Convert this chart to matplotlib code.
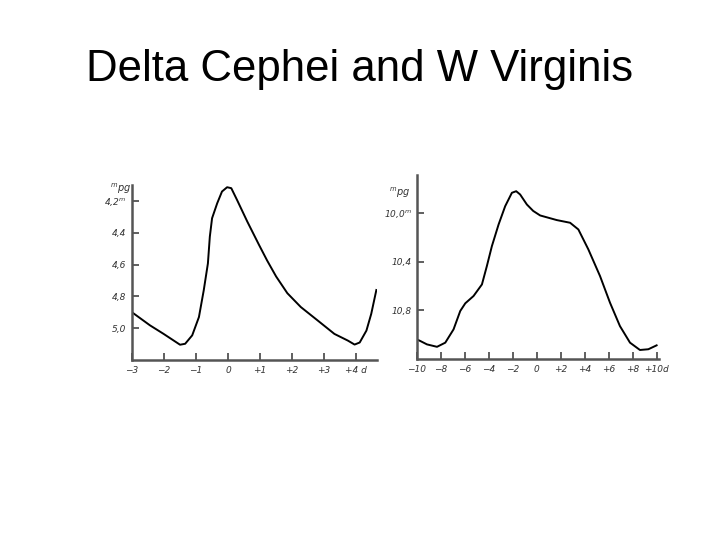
import matplotlib
matplotlib.use("Agg")
import matplotlib.pyplot as plt

# ------------------------------------------------------------------
# Light curves (days, photographic mag)
# ------------------------------------------------------------------
dcep_days = [-3.0, -2.44, -2.02, -1.50, -1.34, -1.12, -0.91, -0.76, -0.63,
             -0.57, -0.50, -0.34, -0.19, -0.03, 0.10, 0.28, 0.60, 0.97,
             1.22, 1.50, 1.85, 2.27, 2.80, 3.32, 3.74, 3.95, 4.11, 4.32,
             4.47, 4.63]
dcep_mag = [4.90, 4.982, 5.035, 5.104, 5.098, 5.045, 4.93, 4.762, 4.593,
            4.425, 4.309, 4.215, 4.141, 4.114, 4.12, 4.194, 4.33, 4.478,
            4.575, 4.675, 4.78, 4.867, 4.952, 5.036, 5.078, 5.103, 5.09,
            5.015, 4.91, 4.76]

wvir_days = [-10.0, -9.73, -9.17, -8.33, -7.64, -6.95, -6.39, -5.97, -5.28,
             -4.58, -4.17, -3.75, -3.19, -2.64, -2.08, -1.72, -1.39, -0.83,
             -0.30, 0.28, 1.67, 2.78, 3.47, 4.30, 5.28, 6.11, 6.94, 7.78,
             8.61, 9.31, 10.0]
wvir_mag = [11.04, 11.052, 11.08, 11.10, 11.066, 10.957, 10.806, 10.743,
            10.683, 10.588, 10.438, 10.274, 10.096, 9.946, 9.836, 9.823,
            9.85, 9.932, 9.985, 10.022, 10.06, 10.082, 10.137, 10.30, 10.52,
            10.738, 10.93, 11.066, 11.126, 11.12, 11.088]

dcep_xticks = [-3, -2, -1, 0, 1, 2, 3, 4]
dcep_xlabels = ['−3', '−2', '−1', '0', '+1', '+2', '+3', '+4 d']
dcep_yticks = [4.2, 4.4, 4.6, 4.8, 5.0]
dcep_ylabels = ['4,2$^{m}$', '4,4', '4,6', '4,8', '5,0']

wvir_xticks = [-10, -8, -6, -4, -2, 0, 2, 4, 6, 8, 10]
wvir_xlabels = ['−10', '−8', '−6', '−4', '−2', '0', '+2', '+4', '+6', '+8',
                '+10d']
wvir_yticks = [10.0, 10.4, 10.8]
wvir_ylabels = ['10,0$^{m}$', '10,4', '10,8']

W, H = 720, 540
fig = plt.figure(figsize=(7.2, 5.4), dpi=100)


def px_axes(x0, y0, x1, y1):
    # axes from pixel box (top-left origin)
    return fig.add_axes([x0 / W, 1 - y1 / H, (x1 - x0) / W, (y1 - y0) / H])


def style_panel(ax, xt, xl, yt, yl):
    for s in ['top', 'right']:
        ax.spines[s].set_visible(False)
    for s in ['left', 'bottom']:
        ax.spines[s].set_color('#555555')
        ax.spines[s].set_linewidth(1.8)
    ax.set_xticks(xt)
    ax.set_xticklabels(xl)
    ax.set_yticks(yt)
    ax.set_yticklabels(yl)
    ax.tick_params(axis='both', direction='in', length=5, width=1.2,
                   color='#444444', labelsize=6.5, labelcolor='#333333')
    ax.tick_params(axis='x', pad=4)
    ax.tick_params(axis='y', pad=4)
    for lab in ax.get_xticklabels() + ax.get_yticklabels():
        lab.set_fontstyle('italic')
    ax.set_facecolor('none')


# ---- Delta Cephei ----
ax1 = px_axes(132, 185, 377, 360)
ax1.plot(dcep_days, dcep_mag, color='black', lw=1.4,
         solid_joinstyle='round')
ax1.set_xlim(-3, 4.65)
ax1.set_ylim(5.2, 4.1)
style_panel(ax1, dcep_xticks, dcep_xlabels, dcep_yticks, dcep_ylabels)
fig.text(121 / W, 1 - 189 / H, '$^{m}$pg', fontsize=7, style='italic',
         color='#333333', ha='center', va='center')

# ---- W Virginis ----
ax2 = px_axes(417, 175, 659, 359)
ax2.plot(wvir_days, wvir_mag, color='black', lw=1.4,
         solid_joinstyle='round')
ax2.set_xlim(-10, 10.2)
ax2.set_ylim(11.2, 9.69)
style_panel(ax2, wvir_xticks, wvir_xlabels, wvir_yticks, wvir_ylabels)
fig.text(400 / W, 1 - 193 / H, '$^{m}$pg', fontsize=7, style='italic',
         color='#333333', ha='center', va='center')

fig.text(0.5, 1 - 81 / H, 'Delta Cephei and W Virginis',
         fontsize=31.5, family='Liberation Sans', ha='center',
         va='baseline')

fig.savefig('out.png', dpi=100)
